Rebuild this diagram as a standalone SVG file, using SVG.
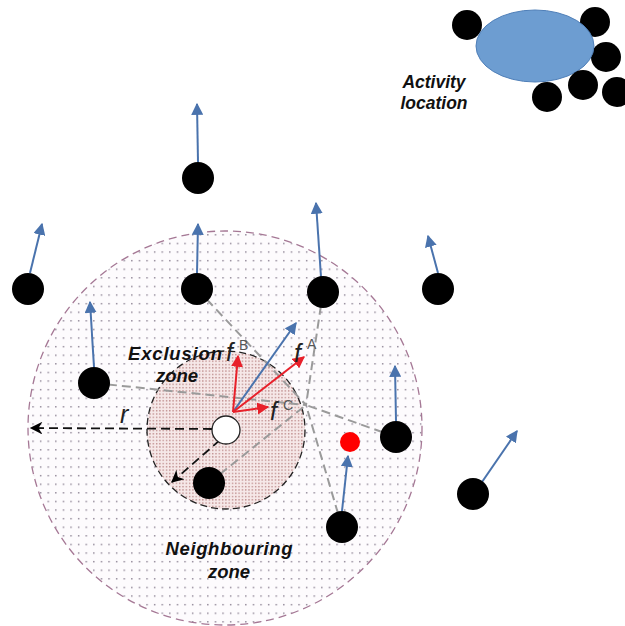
<svg xmlns="http://www.w3.org/2000/svg" width="625" height="626" viewBox="0 0 625 626">
  <style>
    .node { fill: #000; }
    .move { stroke: #4a73ad; stroke-width: 2; fill: none; marker-end: url(#blueHead); }
    .force { stroke: #e8202a; stroke-width: 2; fill: none; marker-end: url(#redHead); }
    .link { stroke: #9a9a9a; stroke-width: 2; stroke-dasharray: 9 5; fill: none; }
    .radius { stroke: #111; stroke-width: 1.8; stroke-dasharray: 9 5; fill: none; marker-end: url(#blackHead); }
    .label { font-family: "Liberation Sans", Arial, sans-serif; font-weight: bold; font-style: italic; font-size: 18.5px; fill: #111; }
    .small { font-size: 17.5px; }
    .f { font-family: "Liberation Sans", Arial, sans-serif; font-style: italic; font-size: 25px; fill: #222; }
    .sup { font-family: "Liberation Sans", Arial, sans-serif; font-size: 14px; fill: #555; }
  </style>
  <defs>
    <pattern id="sparseDots" patternUnits="userSpaceOnUse" width="7.6" height="8.6">
      <rect width="7.6" height="8.6" fill="#fdfbfd"/>
      <rect x="2" y="2" width="1.3" height="1.3" fill="#756a7e"/>
    </pattern>
    <pattern id="denseDots" patternUnits="userSpaceOnUse" width="3.3" height="3.3">
      <rect width="3.3" height="3.3" fill="#f6e8e8"/>
      <rect x="0.8" y="0.8" width="1.4" height="1.4" fill="#c08f8f"/>
    </pattern>
    <marker id="blueHead" viewBox="0 0 10 10" refX="9" refY="5" markerWidth="6" markerHeight="6" orient="auto" markerUnits="strokeWidth">
      <path d="M0,0 L10,5 L0,10 z" fill="#4a73ad"/>
    </marker>
    <marker id="redHead" viewBox="0 0 10 10" refX="9" refY="5" markerWidth="6" markerHeight="6" orient="auto" markerUnits="strokeWidth">
      <path d="M0,0 L10,5 L0,10 z" fill="#e8202a"/>
    </marker>
    <marker id="blackHead" viewBox="0 0 10 10" refX="9" refY="5" markerWidth="8" markerHeight="7" orient="auto" markerUnits="strokeWidth">
      <path d="M0,0 L10,5 L0,10 L3,5 z" fill="#000"/>
    </marker>
  </defs>

  <!-- zones -->
  <g id="neighbouring-zone">
    <circle cx="225" cy="428" r="197" fill="url(#sparseDots)" stroke="#a57895" stroke-width="1.3" stroke-dasharray="8 5"/>
  </g>
  <g id="exclusion-zone">
    <circle cx="226" cy="430" r="79" fill="url(#denseDots)" stroke="#222" stroke-width="1.3" stroke-dasharray="7 4"/>
  </g>

  <!-- activity location -->
  <g id="activity-location">
    <circle class="node" cx="467" cy="25" r="15"/>
    <circle class="node" cx="595" cy="22" r="15"/>
    <circle class="node" cx="606" cy="57" r="15"/>
    <ellipse cx="535" cy="46" rx="59" ry="36" fill="#6d9dd1" stroke="#4f7fb8" stroke-width="1"/>
    <circle class="node" cx="547" cy="97" r="15"/>
    <circle class="node" cx="583" cy="85" r="15"/>
    <circle class="node" cx="617" cy="92" r="15"/>
    <text class="label small" x="434" y="88" text-anchor="middle">Activity</text>
    <text class="label small" x="434" y="109" text-anchor="middle">location</text>
  </g>

  <!-- connectors -->
  <g id="connectors">
    <!-- separation lines to the neighbours -->
    <path class="link" d="M197,289 L306,405"/>
    <path class="link" d="M323,292 L306,405"/>
    <path class="link" d="M94,383 L306,405"/>
    <path class="link" d="M396,437 L306,405"/>
    <path class="link" d="M209,483 L306,405"/>
    <path class="link" d="M342,527 L306,405"/>

    <!-- radius arrows -->
    <path class="radius" d="M212,429 L31,428"/>
    <path class="radius" d="M220,440 L172,482"/>

    <!-- heading of each individual -->
    <path class="move" d="M198,162 L197,104"/>
    <path class="move" d="M30,273 L42,224"/>
    <path class="move" d="M197,273 L198,224"/>
    <path class="move" d="M321,277 L316,203"/>
    <path class="move" d="M438,273 L428,236"/>
    <path class="move" d="M94,367 L90,302"/>
    <path class="move" d="M396,421 L395,366"/>
    <path class="move" d="M342,511 L348,456"/>
    <path class="move" d="M482,482 L517,431"/>
    <path class="move" d="M233,412 L296,323"/>

    <!-- forces on the focal individual -->
    <path class="force" d="M233,412 L238,356"/>
    <path class="force" d="M233,412 L304,357"/>
    <path class="force" d="M233,412 L268,407"/>
  </g>

  <!-- individuals -->
  <g id="n1"><circle class="node" cx="198" cy="178" r="16"/></g>
  <g id="n2"><circle class="node" cx="28" cy="289" r="16"/></g>
  <g id="n3"><circle class="node" cx="197" cy="289" r="16"/></g>
  <g id="n4"><circle class="node" cx="323" cy="292" r="16"/></g>
  <g id="n5"><circle class="node" cx="438" cy="289" r="16"/></g>
  <g id="n6"><circle class="node" cx="94" cy="383" r="16"/></g>
  <g id="n7"><circle class="node" cx="396" cy="437" r="16"/></g>
  <g id="n8"><circle class="node" cx="209" cy="483" r="16"/></g>
  <g id="n9"><circle class="node" cx="342" cy="527" r="16"/></g>
  <g id="n10"><circle class="node" cx="473" cy="494" r="16"/></g>
  <g id="target"><circle cx="350" cy="442" r="10" fill="#f00"/></g>
  <g id="focal"><circle cx="226" cy="430" r="14" fill="#fff" stroke="#222" stroke-width="1.3"/></g>

  <!-- labels -->
  <g id="labels">
    <text class="label" x="175" y="360" text-anchor="middle" textLength="94" lengthAdjust="spacing">Exclusion</text>
    <text class="label" x="177" y="382" text-anchor="middle">zone</text>
    <text class="label" x="229" y="555" text-anchor="middle" textLength="127" lengthAdjust="spacing">Neighbouring</text>
    <text class="label" x="229" y="578" text-anchor="middle">zone</text>
    <text class="f" x="120" y="423">r</text>
    <text class="f" x="226" y="361">f</text><text class="sup" x="239" y="350">B</text>
    <text class="f" x="294" y="362">f</text><text class="sup" x="307" y="349">A</text>
    <text class="f" x="270" y="420">f</text><text class="sup" x="283" y="410">C</text>
  </g>
</svg>
